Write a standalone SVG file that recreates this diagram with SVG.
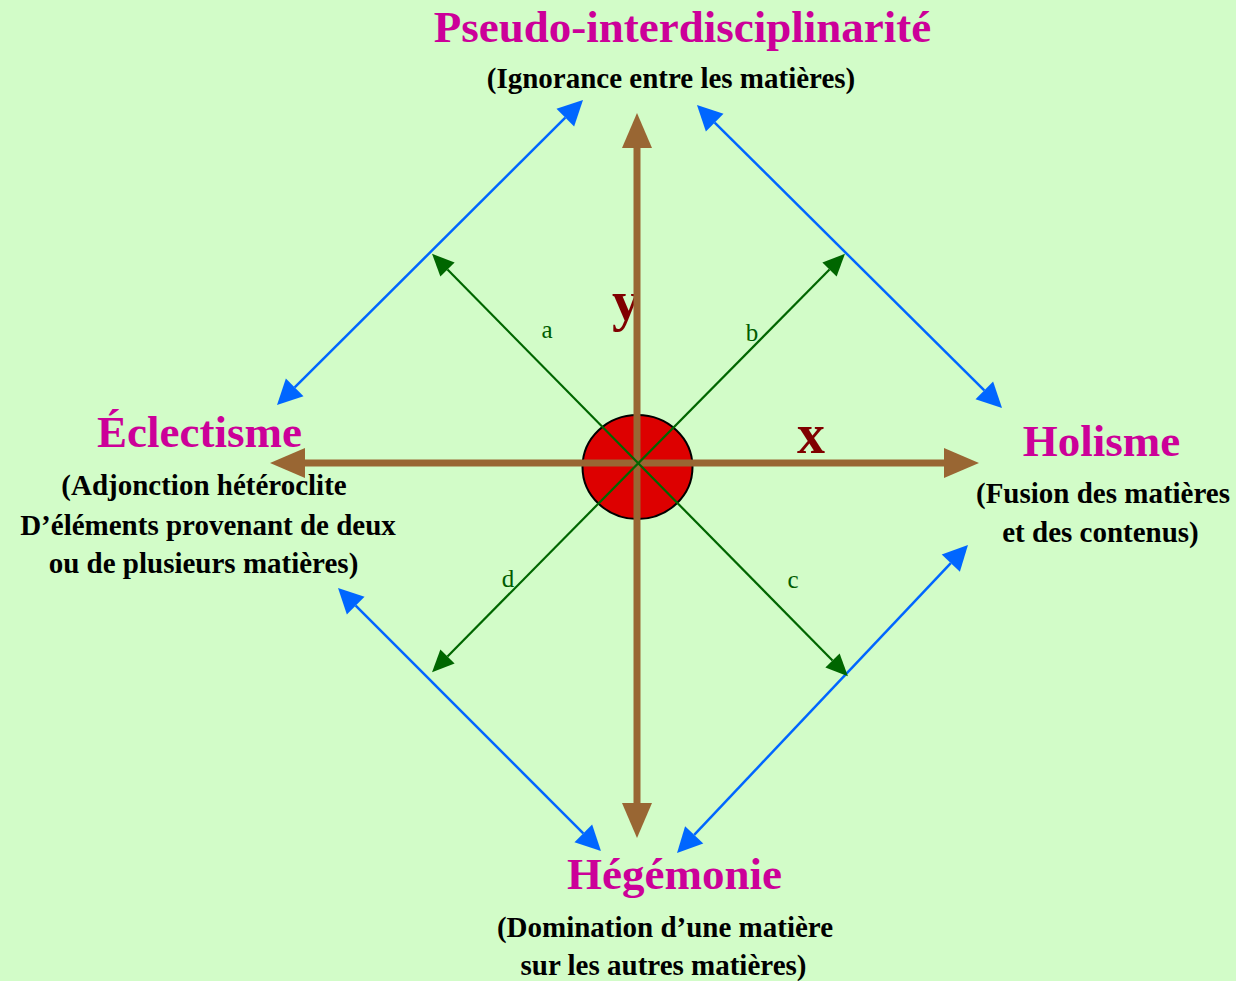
<svg xmlns="http://www.w3.org/2000/svg" width="1236" height="981" viewBox="0 0 1236 981">
<defs>
<style>
.t{font-family:"Liberation Serif","Times New Roman",serif;font-weight:bold;text-anchor:middle}
.title{font-size:45px;fill:#cc0099}
.sub{font-size:29px;fill:#000}
.axis{font-size:56px;fill:#800000}
.lbl{font-family:"Liberation Serif","Times New Roman",serif;font-size:25px;fill:#005c00;text-anchor:middle}
.brown{stroke:#996633;stroke-width:7;fill:none}
.green{stroke:#006600;stroke-width:2.2;fill:none}
.blue{stroke:#0066ff;stroke-width:2.5;fill:none}
</style>
<marker id="mBrown" markerUnits="userSpaceOnUse" markerWidth="36" markerHeight="32" refX="0" refY="15" orient="auto-start-reverse" overflow="visible"><path d="M0,0 L35,15 L0,30 z" fill="#996633"/></marker>
<marker id="mGreen" markerUnits="userSpaceOnUse" markerWidth="23" markerHeight="21" refX="0" refY="10" orient="auto-start-reverse" overflow="visible"><path d="M0,0 L22,10 L0,20 z" fill="#006600"/></marker>
<marker id="mBlue" markerUnits="userSpaceOnUse" markerWidth="26" markerHeight="26" refX="0" refY="12.5" orient="auto-start-reverse" overflow="visible"><path d="M0,0 L25,12.5 L0,25 z" fill="#0066ff"/></marker>
</defs>
<rect x="0" y="0" width="1236" height="981" fill="#d2fcc8"/>
<g id="axis-labels">
<text class="t axis" x="811" y="453">x</text>
<text class="t axis" x="626" y="320">y</text>
<text class="lbl" x="547" y="338">a</text>
<text class="lbl" x="752" y="341">b</text>
<text class="lbl" x="793" y="588">c</text>
<text class="lbl" x="508" y="587">d</text>
</g>
<g id="center"><ellipse cx="637.5" cy="467" rx="55" ry="52" fill="#dd0000" stroke="#000" stroke-width="2"/></g>
<g id="connectors">
<line class="blue" x1="294.7" y1="387.4" x2="565.3" y2="117.6" marker-start="url(#mBlue)" marker-end="url(#mBlue)"/>
<line class="blue" x1="714.7" y1="122.6" x2="984.3" y2="390.4" marker-start="url(#mBlue)" marker-end="url(#mBlue)"/>
<line class="blue" x1="950.8" y1="563.2" x2="694.2" y2="834.8" marker-start="url(#mBlue)" marker-end="url(#mBlue)"/>
<line class="blue" x1="355.7" y1="605.7" x2="583.3" y2="833.3" marker-start="url(#mBlue)" marker-end="url(#mBlue)"/>
<line class="brown" x1="305" y1="463" x2="944" y2="463" marker-start="url(#mBrown)" marker-end="url(#mBrown)"/>
<line class="brown" x1="637" y1="148" x2="637" y2="803" marker-start="url(#mBrown)" marker-end="url(#mBrown)"/>
<line class="green" x1="447.5" y1="269.5" x2="832.5" y2="660.5" marker-start="url(#mGreen)" marker-end="url(#mGreen)"/>
<line class="green" x1="829.5" y1="269.5" x2="447.5" y2="656.5" marker-start="url(#mGreen)" marker-end="url(#mGreen)"/>
</g>
<g id="pseudo">
<text class="t title" x="682.5" y="42">Pseudo-interdisciplinarité</text>
<text class="t sub" x="671" y="88">(Ignorance entre les matières)</text>
</g>
<g id="eclectisme">
<text class="t title" x="199.5" y="447">Éclectisme</text>
<text class="t sub" x="204" y="495">(Adjonction hétéroclite</text>
<text class="t sub" x="208" y="535">D’éléments provenant de deux</text>
<text class="t sub" x="203.5" y="573">ou de plusieurs matières)</text>
</g>
<g id="holisme">
<text class="t title" x="1101.5" y="456">Holisme</text>
<text class="t sub" x="1103" y="503">(Fusion des matières</text>
<text class="t sub" x="1100.5" y="542">et des contenus)</text>
</g>
<g id="hegemonie">
<text class="t title" x="674.5" y="889">Hégémonie</text>
<text class="t sub" x="665" y="937">(Domination d’une matière</text>
<text class="t sub" x="663.5" y="975">sur les autres matières)</text>
</g>
</svg>
